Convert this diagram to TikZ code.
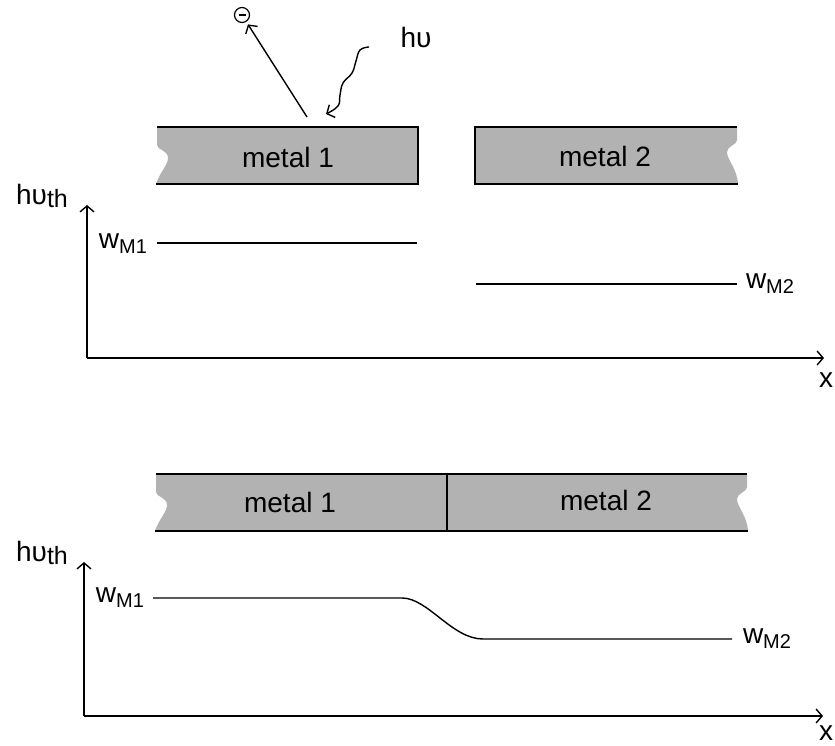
\documentclass[tikz,border=0pt]{standalone}
\usepackage{fontspec}
\setmainfont{Liberation Sans}
\usetikzlibrary{arrows.meta}
\begin{document}
\begin{tikzpicture}[x=1pt,y=-1pt,
  line width=1.4pt,
  every node/.style={font=\fontsize{28}{32}\selectfont, inner sep=0pt},
  arr/.style={-{Straight Barb[length=6pt,width=14pt,line width=1.4pt]}},
  metalfill/.style={fill=black!30, draw=none}
]
\useasboundingbox (0,0) rectangle (835,746);

% ---------- upper metals ----------
\fill[metalfill] (157,127) -- (418,127) -- (418,184) -- (156,184)
  .. controls (160,172) and (168,165) .. (168,158)
  .. controls (168,150) and (157,150) .. (157,145) -- cycle;
\draw (157,127) -- (418,127) -- (418,184) -- (156,184);
\node (m1a) at (288,157) {metal 1};

\fill[metalfill] (475,127) -- (737,127) -- (737,140)
  .. controls (737,145) and (727,146) .. (727,152)
  .. controls (727,160) and (737,168) .. (738,184) -- (475,184) -- cycle;
\draw (737,127) -- (475,127) -- (475,184) -- (738,184);
\node (m2a) at (605,156) {metal 2};

% photon and electron
\node (hv) at (416,37) {h\char"03C5};
\draw[arr] plot[smooth, tension=0.7] coordinates {(369,47) (360,50) (356,61) (352,73) (343,83) (340,95) (338,106) (326,114)};
\node[draw, circle, minimum size=15pt, line width=1.2pt] (e) at (242,15) {};
\draw[line width=2.2pt] (238.5,15) -- (245.5,15);
\coordinate (emit) at (307,117);
\draw[arr, shorten >=3pt] (emit) -- (e);

% ---------- upper graph ----------
\coordinate (o1) at (87,358);
\coordinate (y1) at (87,205);
\coordinate (x1) at (824,358);
\draw[arr] (o1) -- (y1);
\draw[arr] (o1) -- (x1);
\node (hth1) at (42,196) {h\char"03C5\raisebox{-0.25ex}{\fontsize{25}{28}\selectfont th}};
\node (xl1) at (826,380) {x};
\node (w1a) at (123,244) {w\raisebox{-0.35ex}{\fontsize{20}{22}\selectfont M1}};
\node (w2a) at (770,284) {w\raisebox{-0.35ex}{\fontsize{20}{22}\selectfont M2}};
\coordinate (l1s) at (157,243);
\coordinate (l1e) at (417,243);
\draw (l1s) -- (l1e);
\coordinate (l2s) at (476,284);
\coordinate (l2e) at (737,284);
\draw (l2s) -- (l2e);

% ---------- lower metals ----------
\fill[metalfill] (156,474) -- (747,474) -- (747,487)
  .. controls (747,492) and (737,493) .. (737,499)
  .. controls (737,507) and (747,515) .. (748,531)
  -- (155,531)
  .. controls (159,519) and (167,512) .. (167,505)
  .. controls (167,497) and (156,497) .. (156,492) -- cycle;
\draw (156,474) -- (747,474);
\draw (155,531) -- (748,531);
\draw (447,474) -- (447,531);
\node (m1b) at (290,502) {metal 1};
\node (m2b) at (606,500) {metal 2};

% ---------- lower graph ----------
\coordinate (o2) at (84,716);
\coordinate (y2) at (84,562);
\coordinate (x2) at (823,716);
\draw[arr] (o2) -- (y2);
\draw[arr] (o2) -- (x2);
\node (hth2) at (42,553) {h\char"03C5\raisebox{-0.25ex}{\fontsize{25}{28}\selectfont th}};
\node (xl2) at (826,733) {x};
\node (w1b) at (120,598) {w\raisebox{-0.35ex}{\fontsize{20}{22}\selectfont M1}};
\node (w2b) at (767,639) {w\raisebox{-0.35ex}{\fontsize{20}{22}\selectfont M2}};
\coordinate (c1) at (153,598);
\coordinate (c2) at (402,598);
\coordinate (c3) at (483,639);
\coordinate (c4) at (732,639);
\draw (c1) -- (c2) .. controls (428,598) and (452,639) .. (c3) -- (c4);
\end{tikzpicture}
\end{document}
